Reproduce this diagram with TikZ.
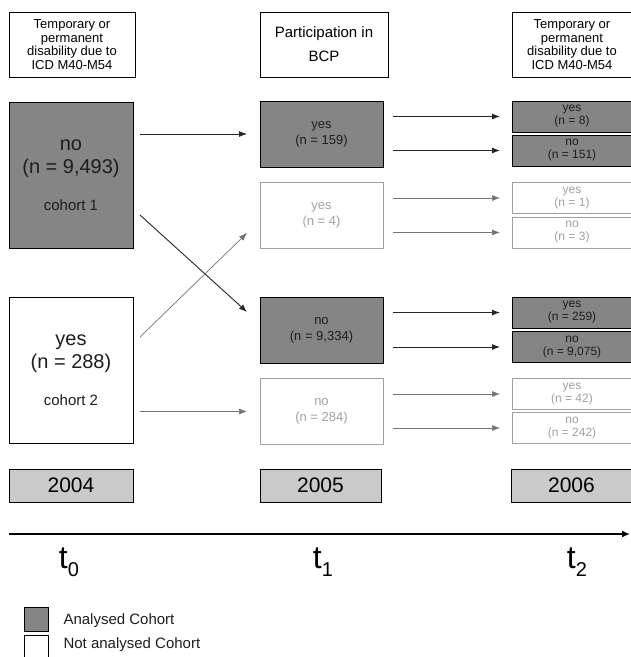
\documentclass[tikz,border=0pt]{standalone}
\usepackage{fontspec}
\setmainfont{Liberation Sans}
\usetikzlibrary{arrows.meta}

\definecolor{anfill}{HTML}{858585}
\definecolor{yrfill}{HTML}{CACACA}
\definecolor{lgray}{HTML}{A0A0A0}
\definecolor{dtext}{HTML}{1E1E1E}

\begin{document}
\begin{tikzpicture}
[x=1pt,y=-1pt,
box/.style={draw,inner sep=0pt,outer sep=0pt,align=center,line width=.8pt},
hdr/.style={box,minimum height=65pt,font=\fontsize{13}{13.6}\selectfont},
%
cbox/.style={box,minimum width=124pt,minimum height=146pt,text=dtext,
  font=\fontsize{20}{23}\selectfont},
mbox/.style={box,minimum width=123pt,minimum height=66pt,
  font=\fontsize{13}{16}\selectfont},
rbox/.style={box,minimum width=120pt,minimum height=31pt,
  font=\fontsize{12}{13}\selectfont},
an/.style={fill=anfill,text=dtext},
na/.style={draw=lgray,text=lgray},
yearbox/.style={box,fill=yrfill,minimum height=33pt,font=\fontsize{21}{21}\selectfont},
%
flow/.style={line width=.9pt,draw=black!85,-{Latex[length=8pt,width=6pt]}},
lflow/.style={flow,draw=black!55,line width=.7pt}]
%
\useasboundingbox (0,0) rectangle (631,657);
%
% column headings
\node (hdrA) [hdr,minimum width=126pt] at (72,44.5)
  {Temporary or\\permanent\\disability due to\\ICD M40-M54};
\node (hdrB) [hdr,minimum width=128pt,font=\fontsize{15}{24}\selectfont] at (324,44.5)
  {Participation in\\BCP};
\node (hdrC) [hdr,minimum width=120pt] at (572,44.5)
  {Temporary or\\permanent\\disability due to\\ICD M40-M54};
%
% 2004 cohorts
\node (coh1) [cbox,an] at (71,175)
  {no\\(n = 9,493)\\[14pt]{\fontsize{15}{18}\selectfont cohort 1}};
\node (coh2) [cbox] at (71,370)
  {yes\\(n = 288)\\[14pt]{\fontsize{15}{18}\selectfont cohort 2}};
%
% 2005
\node (yesA) [mbox,an] at (321.5,134) {yes\\(n = 159)};
\node (yesB) [mbox,na] at (321.5,215.5) {yes\\(n = 4)};
\node (noA) [mbox,an] at (321.5,330) {no\\(n = 9,334)};
\node (noB) [mbox,na] at (321.5,411.5) {no\\(n = 284)};
%
% 2006
\node (r1) [rbox,an] at (572,116.5) {yes\\(n = 8)};
\node (r2) [rbox,an] at (572,150.5) {no\\(n = 151)};
\node (r3) [rbox,na] at (572,198) {yes\\(n = 1)};
\node (r4) [rbox,na] at (572,232.5) {no\\(n = 3)};
\node (r5) [rbox,an] at (572,312.5) {yes\\(n = 259)};
\node (r6) [rbox,an] at (572,347) {no\\(n = 9,075)};
\node (r7) [rbox,na] at (572,394) {yes\\(n = 42)};
\node (r8) [rbox,na] at (572,428) {no\\(n = 242)};
%
\draw[flow] ([xshift=7pt]coh1.east |- yesA.west) -- ([xshift=-13pt]yesA.west);
\draw[flow] ([shift={(7pt,-40pt)}]coh1.east) -- ([shift={(-13pt,18pt)}]noA.west);
\draw[lflow] ([shift={(7pt,33pt)}]coh2.east) -- ([shift={(-13pt,-17.5pt)}]yesB.west);
\draw[lflow] ([xshift=7pt]coh2.east |- noB.west) -- ([xshift=-13pt]noB.west);
%
\draw[flow] ([xshift=10pt]yesA.east |- r1.west) -- ([xshift=-12pt]r1.west);
\draw[flow] ([xshift=10pt]yesA.east |- r2.west) -- ([xshift=-12pt]r2.west);
\draw[lflow] ([xshift=10pt]yesB.east |- r3.west) -- ([xshift=-12pt]r3.west);
\draw[lflow] ([xshift=10pt]yesB.east |- r4.west) -- ([xshift=-12pt]r4.west);
\draw[flow] ([xshift=10pt]noA.east |- r5.west) -- ([xshift=-12pt]r5.west);
\draw[flow] ([xshift=10pt]noA.east |- r6.west) -- ([xshift=-12pt]r6.west);
\draw[lflow] ([xshift=10pt]noB.east |- r7.west) -- ([xshift=-12pt]r7.west);
\draw[lflow] ([xshift=10pt]noB.east |- r8.west) -- ([xshift=-12pt]r8.west);
%
% years and time axis
\node (y04) [yearbox,minimum width=124pt] at (71,485.5) {2004};
\node (y05) [yearbox,minimum width=121pt] at (320.5,485.5) {2005};
\node (y06) [yearbox,minimum width=121pt] at (571.5,485.5) {2006};
%
\coordinate (ax0) at (9,534);
\coordinate (ax1) at (630,534);
\draw[line width=2pt,-{Latex[length=8pt,width=7pt]}] (ax0) -- (ax1);
%
\newcommand{\tlab}[1]{t\raisebox{-.45ex}{\fontsize{20}{20}\selectfont #1}}
\node (t0) [font=\fontsize{32}{32}\selectfont] at (69,562) {\tlab{0}};
\node (t1) [font=\fontsize{32}{32}\selectfont] at (323,562) {\tlab{1}};
\node (t2) [font=\fontsize{32}{32}\selectfont] at (577,562) {\tlab{2}};
%
% legend
\node (keyA) [box,an,minimum width=24pt,minimum height=24pt] at (36,619) {};
\node (keyB) [box,minimum width=24pt,minimum height=24pt] at (36,647) {};
\node (txtA) [anchor=west,font=\fontsize{15}{15}\selectfont,text=dtext] at (60,621) {Analysed Cohort};
\node (txtB) [anchor=west,font=\fontsize{15}{15}\selectfont,text=dtext] at (60,645) {Not analysed Cohort};
\end{tikzpicture}
\end{document}
